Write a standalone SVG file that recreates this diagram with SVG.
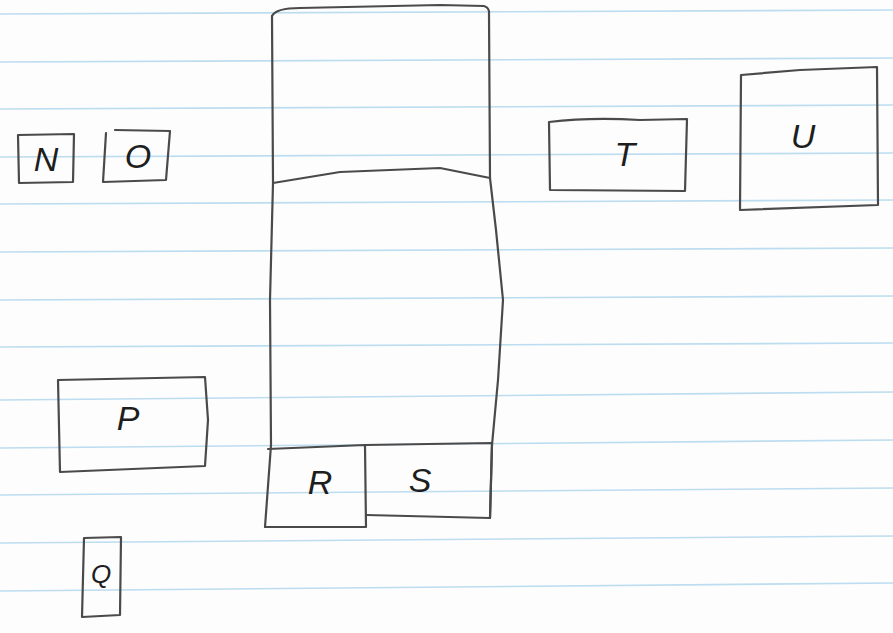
<svg xmlns="http://www.w3.org/2000/svg" width="893" height="633" viewBox="0 0 893 633">
<style>
.paper{fill:#fdfdfd}
.rule{stroke:#bcdcef;stroke-width:1.6;fill:none}
.box{fill:none;stroke:#4a4a4a;stroke-width:2.2;stroke-linejoin:round;stroke-linecap:round}
.lbl{font-family:"Liberation Sans",Arial,sans-serif;font-style:italic;font-size:34px;fill:#1e1e1e;text-anchor:middle;dominant-baseline:central}
</style>
<rect class="paper" x="0" y="0" width="893" height="633"/>
<g id="ruling">
<path class="rule" d="M0 14 L893 10"/>
<path class="rule" d="M0 62 L893 58"/>
<path class="rule" d="M0 109 L893 105"/>
<path class="rule" d="M0 157 L893 153"/>
<path class="rule" d="M0 204 L893 200"/>
<path class="rule" d="M0 252 L893 248"/>
<path class="rule" d="M0 300 L893 296"/>
<path class="rule" d="M0 347 L893 343"/>
<path class="rule" d="M0 400 L893 392"/>
<path class="rule" d="M0 448 L893 440"/>
<path class="rule" d="M0 495 L893 488"/>
<path class="rule" d="M0 543 L893 536"/>
<path class="rule" d="M0 591 L893 583"/>
</g>
<g id="node-N">
<path class="box" d="M18 135 L74 134 L73 182 L19 183 Z"/>
<text class="lbl" x="46" y="159">N</text>
</g>
<g id="node-O">
<path class="box" d="M106 133 L103 182 L166 180 L170 131 L115 130"/>
<text class="lbl" x="138" y="156">O</text>
</g>
<g id="node-column">
<path class="box" d="M272 16 Q276 8 300 8 L440 5 L484 6 Q490 8 489 14 L490 178"/>
<path class="box" d="M272 16 L273 183 L270 300 L271 445 L265 527"/>
<path class="box" d="M273 183 L340 172 L440 168 L490 178"/>
<path class="box" d="M490 178 L496 230 L503 300 L498 380 L492 445 L490 518"/>
</g>
<g id="node-R">
<path class="box" d="M268 449 L365 445 L366 527 L265 527"/>
<text class="lbl" x="320" y="482">R</text>
</g>
<g id="node-S">
<path class="box" d="M365 445 L492 443 L490 518 L366 515"/>
<text class="lbl" x="420" y="480">S</text>
</g>
<g id="node-P">
<path class="box" d="M58 380 L205 377 L208 420 L205 466 L60 472 Z"/>
<text class="lbl" x="128" y="418">P</text>
</g>
<g id="node-Q">
<path class="box" d="M84 538 L121 537 L120 615 L82 617 Z"/>
<text class="lbl" x="101" y="574" style="font-size:26px">Q</text>
</g>
<g id="node-T">
<path class="box" d="M549 122 Q590 117 640 120 L687 119 L685 191 L550 190 Z"/>
<text class="lbl" x="625" y="154">T</text>
</g>
<g id="node-U">
<path class="box" d="M741 75 L800 70 L877 67 L878 205 L740 210 Z"/>
<text class="lbl" x="803" y="136">U</text>
</g>
<g id="connectors"></g>
</svg>
